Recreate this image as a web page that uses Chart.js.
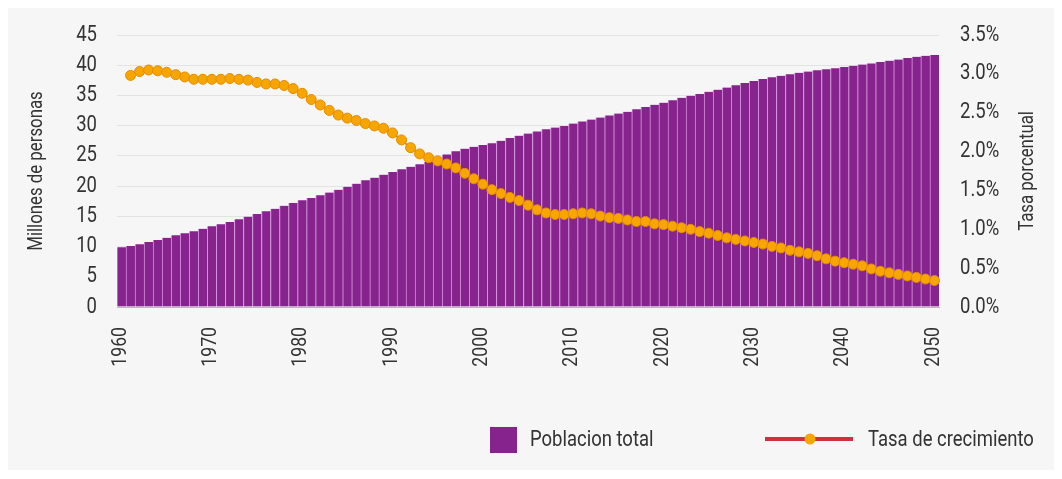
<!DOCTYPE html>
<html>
<head>
<meta charset="utf-8">
<script src="https://cdn.jsdelivr.net/npm/chart.js@4"></script>
<style>
  html, body { margin: 0; padding: 0; background: #ffffff; }
  #wrap { position: relative; width: 1062px; height: 479px; }
  #bg { position: absolute; left: 8px; top: 8px; width: 1046px; height: 462px; background: #f6f6f6; }
  canvas { position: absolute; left: 0; top: 0; }
</style>
</head>
<body>
<div id="wrap"><div id="bg"></div><canvas id="myChart" width="1062" height="479"></canvas></div>
<script>
const years = [
  1960, 1961, 1962, 1963, 1964, 1965, 1966, 1967, 1968, 1969,
  1970, 1971, 1972, 1973, 1974, 1975, 1976, 1977, 1978, 1979,
  1980, 1981, 1982, 1983, 1984, 1985, 1986, 1987, 1988, 1989,
  1990, 1991, 1992, 1993, 1994, 1995, 1996, 1997, 1998, 1999,
  2000, 2001, 2002, 2003, 2004, 2005, 2006, 2007, 2008, 2009,
  2010, 2011, 2012, 2013, 2014, 2015, 2016, 2017, 2018, 2019,
  2020, 2021, 2022, 2023, 2024, 2025, 2026, 2027, 2028, 2029,
  2030, 2031, 2032, 2033, 2034, 2035, 2036, 2037, 2038, 2039,
  2040, 2041, 2042, 2043, 2044, 2045, 2046, 2047, 2048, 2049,
  2050
];

// millones de personas
const poblacion = [
  9.9, 10.1, 10.4, 10.75, 11.1, 11.45, 11.85, 12.2, 12.55, 12.95,
  13.35, 13.7, 14.05, 14.5, 14.95, 15.4, 15.85, 16.25, 16.75, 17.2,
  17.65, 18.05, 18.5, 18.95, 19.4, 19.9, 20.4, 20.95, 21.4, 21.9,
  22.35, 22.8, 23.2, 23.6, 24.05, 24.65, 25.25, 25.75, 26.2, 26.5,
  26.8, 27.1, 27.5, 27.95, 28.35, 28.7, 29.05, 29.4, 29.7, 29.95,
  30.35, 30.7, 31.0, 31.35, 31.7, 32.0, 32.3, 32.7, 33.1, 33.45,
  33.8, 34.2, 34.6, 34.95, 35.25, 35.6, 35.95, 36.3, 36.7, 37.05,
  37.4, 37.7, 38.0, 38.25, 38.5, 38.75, 38.95, 39.15, 39.35, 39.5,
  39.7, 39.9, 40.1, 40.3, 40.55, 40.75, 40.95, 41.2, 41.4, 41.55,
  41.7
];

// tasa de crecimiento, en %
const tasa = [
  null, 2.98, 3.03, 3.05, 3.04, 3.02, 2.99, 2.96, 2.93, 2.93,
  2.93, 2.93, 2.94, 2.93, 2.92, 2.89, 2.87, 2.87, 2.85, 2.81,
  2.75, 2.67, 2.60, 2.53, 2.47, 2.43, 2.40, 2.36, 2.33, 2.30,
  2.24, 2.15, 2.05, 1.97, 1.92, 1.88, 1.84, 1.79, 1.72, 1.65,
  1.58, 1.51, 1.46, 1.41, 1.37, 1.31, 1.25, 1.21, 1.19, 1.19,
  1.20, 1.21, 1.20, 1.17, 1.15, 1.14, 1.12, 1.10, 1.10, 1.07,
  1.06, 1.04, 1.02, 1.00, 0.97, 0.95, 0.92, 0.89, 0.87, 0.85,
  0.83, 0.81, 0.78, 0.76, 0.73, 0.71, 0.69, 0.66, 0.62, 0.59,
  0.57, 0.55, 0.53, 0.49, 0.46, 0.44, 0.42, 0.40, 0.38, 0.36,
  0.34
];

const decadeTicks = [1960, 1970, 1980, 1990, 2000, 2010, 2020, 2030, 2040, 2050];
const leftTicks = [0, 5, 10, 15, 20, 25, 30, 35, 40, 45];
const rightTicks = [0, 0.5, 1.0, 1.5, 2.0, 2.5, 3.0, 3.5];
const seriesNames = ['Poblacion total', 'Tasa de crecimiento'];
const axisTitles = ['Millones de personas', 'Tasa porcentual'];

const FONT = 'Roboto, "Liberation Sans", sans-serif';
const SQUEEZE = 0.84;   // no condensed font installed, so squeeze text horizontally
const textColor = '#333333';
const barColor = '#87238c';
const gapColor = '#d48fdc';
const lineColor = '#cf2f3f';
const dotColor = '#f7a600';
const dotEdge = '#e58a00';

function squeezedText(ctx, str, x, y, angle, align) {
  ctx.save();
  ctx.translate(x, y);
  if (angle) ctx.rotate(angle);
  ctx.scale(SQUEEZE, 1);
  ctx.textAlign = align;
  ctx.fillText(str, 0, 0);
  ctx.restore();
}

// tick labels, axis titles and legend, drawn with narrow text
const extras = {
  id: 'extras',
  afterDraw(chart) {
    const ctx = chart.ctx;
    const xs = chart.scales.x, ys = chart.scales.y, rs = chart.scales.y1;
    ctx.save();
    ctx.fillStyle = textColor;
    ctx.textBaseline = 'middle';

    ctx.font = '22px ' + FONT;
    leftTicks.forEach(v => squeezedText(ctx, String(v), ys.right - 20, ys.getPixelForValue(v), 0, 'right'));
    rightTicks.forEach(v => squeezedText(ctx, v.toFixed(1) + '%', rs.left + 21, rs.getPixelForValue(v), 0, 'left'));
    ctx.font = '21px ' + FONT;
    decadeTicks.forEach(yr => {
      const x = xs.getPixelForValue(years.indexOf(yr));
      squeezedText(ctx, String(yr), x - 1, xs.top + 20, -Math.PI / 2, 'right');
    });

    ctx.font = '20px ' + FONT;
    squeezedText(ctx, axisTitles[0], 37, (ys.top + ys.bottom) / 2, -Math.PI / 2, 'center');
    squeezedText(ctx, axisTitles[1], 1028, (rs.top + rs.bottom) / 2, -Math.PI / 2, 'center');

    // legend
    ctx.font = '22px ' + FONT;
    ctx.fillStyle = barColor;
    ctx.fillRect(490, 427, 27, 26);
    ctx.fillStyle = textColor;
    squeezedText(ctx, seriesNames[0], 530, 440, 0, 'left');

    ctx.strokeStyle = lineColor;
    ctx.lineWidth = 4;
    ctx.beginPath();
    ctx.moveTo(765, 439);
    ctx.lineTo(853, 439);
    ctx.stroke();
    ctx.beginPath();
    ctx.arc(810, 439, 5.5, 0, Math.PI * 2);
    ctx.fillStyle = dotColor;
    ctx.fill();
    ctx.fillStyle = textColor;
    squeezedText(ctx, seriesNames[1], 868, 440, 0, 'left');
    ctx.restore();
  }
};

const ctx = document.getElementById('myChart');
new Chart(ctx, {
  data: {
    labels: years,
    datasets: [{
      type: 'line',
      label: seriesNames[1],
      data: tasa,
      yAxisID: 'y1',
      order: 0,
      borderColor: dotEdge,
      borderWidth: 2,
      pointRadius: 5,
      pointBackgroundColor: dotColor,
      pointBorderColor: dotEdge,
      pointBorderWidth: 1,
      tension: 0
    }, {
      type: 'bar',
      label: seriesNames[0],
      data: poblacion,
      yAxisID: 'y',
      order: 1,
      backgroundColor: barColor,
      borderColor: gapColor,
      borderWidth: {left: 1, right: 0, top: 0, bottom: 0},
      borderSkipped: false,
      barPercentage: 1,
      categoryPercentage: 1
    }]
  },
  options: {
    responsive: false,
    devicePixelRatio: 1,
    animation: false,
    layout: { padding: { top: 35, left: 0, right: 0, bottom: 0 } },
    plugins: {
      legend: { display: false },
      tooltip: { enabled: false }
    },
    scales: {
      x: {
        grid: { display: false, drawTicks: false },
        border: { display: true, color: '#b9b9b9', width: 1 },
        ticks: { display: false, autoSkip: false },
        afterFit: function(scale) { scale.height = 172; }
      },
      y: {
        position: 'left',
        min: 0,
        max: 45,
        ticks: { stepSize: 5, display: false },
        grid: { color: '#e3e3e3', drawTicks: false },
        border: { display: false },
        afterFit: function(scale) { scale.width = 117; }
      },
      y1: {
        position: 'right',
        min: 0,
        max: 3.5,
        ticks: { stepSize: 0.5, display: false },
        grid: { display: false, drawTicks: false },
        border: { display: false },
        afterFit: function(scale) { scale.width = 123; }
      }
    }
  },
  plugins: [extras]
});
</script>
</body>
</html>
